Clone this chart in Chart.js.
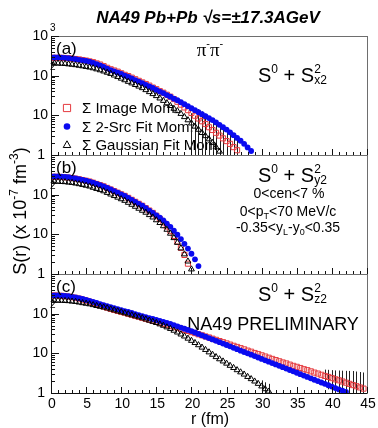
<!DOCTYPE html>
<html>
<head>
<meta charset="utf-8">
<script src="https://cdn.jsdelivr.net/npm/chart.js@4.4.1/dist/chart.umd.min.js"></script>
<style>
  body { margin: 0; background: #fff; }
  #wrap { position: relative; width: 378px; height: 428px; }
  #wrap canvas { position: absolute; left: 0; top: 0; }
</style>
</head>
<body>
<div id="wrap">
  <canvas id="pa" width="378" height="428"></canvas>
  <canvas id="pb" width="378" height="428"></canvas>
  <canvas id="pc" width="378" height="428"></canvas>
</div>
<script>
// r bins (fm)
const rGrid = [0,0.5,1,1.5,2,2.5,3,3.5,4,4.5,5,5.5,6,6.5,7,7.5,8,8.5,9,9.5,
  10,10.5,11,11.5,12,12.5,13,13.5,14,14.5,15,15.5,16,16.5,17,17.5,18,18.5,19,19.5,
  20,20.5,21,21.5,22,22.5,23,23.5,24,24.5,25,25.5,26,26.5,27,27.5,28,28.5,29,29.5,
  30,30.5,31,31.5,32,32.5,33,33.5,34,34.5,35,35.5,36,36.5,37,37.5,38,38.5,39,39.5,
  40,40.5,41,41.5,42,42.5,43,43.5,44,44.5,45];
const xTickValues = [0,5,10,15,20,25,30,35,40,45];
const xTickLabels = ['0','5','10','15','20','25','30','35','40','45'];
const yDecades = [1,10,100,1000];
const seriesNames = ['\u03A3 Image Mom.', '\u03A3 2-Src Fit Mom.', '\u03A3 Gaussian Fit Mom.'];

// panel (a): S0 + Sx2
const imageA = [282,282,282,282,279,275,269,263,257,248,
  240,229,219,204,191,174,158,145,135,126,
  115,105,97.7,89.1,81.3,74.1,67.6,61.7,56.2,50.1,
  45.7,40.7,37.2,33.1,29.5,25.7,21.9,18.6,15.8,13.5,
  11.5,9.77,8.32,7.08,6.03,5.01,4.27,3.63,3.09,2.63,
  2.24,1.91,1.58,1.32];
const twoSrcA = [288,288,288,285,282,275,269,260,251,243,
  234,224,209,195,182,166,151,138,129,120,
  110,100,93.3,85.1,77.6,70.8,64.6,58.9,53.7,49.0,
  43.7,39.8,36.3,32.4,29.5,26.3,24.0,21.4,19.1,17.0,
  15.1,13.5,12.0,10.7,9.55,8.51,7.59,6.61,5.75,5.01,
  4.37,3.72,3.16,2.69,2.29,1.91,1.55,1.26];
const gaussA = [204,204,204,202,200,195,191,186,180,174,
  168,162,155,146,138,129,120,112,102,93.3,
  85.1,77.6,70.8,64.6,58.9,53.7,49.0,43.7,38.9,34.7,
  30.9,26.9,23.4,20.4,17.4,14.8,12.9,11.0,9.12,7.59,
  6.31,5.25,4.37,3.63,3.02,2.51,2.04,1.58,1.23];
// errors of the last points of each series (aligned to the end)
const imageErrA = [6,5.5,5,4.5,4,3.5,3,2.6,2.2,1.9,1.6,1.3];
const gaussErrA = [5,4.5,4,3.5,3,2.5,2,1.6,1.2];

// panel (b): S0 + Sy2
const imageB = [282,282,282,279,275,269,263,254,245,234,
  224,214,200,186,174,162,148,135,123,112,
  102,93.3,83.2,74.1,66.1,58.9,52.5,45.7,39.8,34.7,
  29.5,24.5,20.0,15.8,12.3,9.12,6.61,4.57,3.02,1.82];
const twoSrcB = [288,288,288,285,282,275,266,257,245,234,
  224,214,200,186,174,162,148,135,123,112,
  102,93.3,83.2,74.1,66.1,58.9,52.5,45.7,39.8,34.7,
  30.2,26.3,22.4,18.6,15.5,12.3,9.77,7.59,5.75,4.37,
  3.24,2.34,1.58];
const gaussB = [214,214,214,211,209,204,200,193,186,178,
  170,162,151,141,132,123,112,102,93.3,85.1,
  77.6,70.8,63.1,56.2,50.1,44.7,39.8,35.5,30.9,26.9,
  22.9,19.5,16.2,13.2,10.5,8.13,6.17,4.47,3.16,2.09,
  1.32];
const imageErrB = [];
const gaussErrB = [];

// panel (c): S0 + Sz2
const imageC = [288,288,285,282,275,269,260,251,240,226,
  214,200,186,174,162,151,141,132,124,117,
  111,105,98.9,93.3,88.1,83.2,78.5,74.1,70.0,66.1,
  62.4,58.9,55.6,52.5,49.5,46.8,44.2,41.7,38.9,36.7,
  34.3,32.4,30.2,28.5,26.6,25.1,23.4,21.9,20.4,19.1,
  17.8,16.6,15.5,14.5,13.5,12.6,11.7,11.0,10.2,9.55,
  8.91,8.32,7.76,7.24,6.76,6.31,5.89,5.56,5.19,4.84,
  4.57,4.27,3.98,3.76,3.51,3.27,3.09,2.88,2.69,2.54,
  2.37,2.21,2.09,1.95,1.82,1.70,1.58,1.48,1.38,1.29];
const twoSrcC = [288,288,288,285,282,275,266,257,245,234,
  221,209,197,186,174,164,155,146,138,130,
  123,116,110,104,97.7,92.3,87.1,82.2,77.6,73.3,
  69.2,65.3,61.7,58.2,55.0,51.3,47.9,44.7,41.7,38.9,
  36.3,33.5,30.9,28.5,26.3,24.3,22.4,20.7,19.1,17.6,
  16.2,15.0,13.8,12.7,11.7,10.8,10.0,9.23,8.51,7.85,
  7.24,6.68,6.17,5.69,5.25,4.84,4.47,4.12,3.80,3.51,
  3.24,2.99,2.75,2.54,2.34,2.16,2.00,1.84,1.70,1.57,
  1.45,1.33,1.23,1.15,1.07];
const gaussC = [214,214,214,214,211,209,204,200,193,186,
  180,174,166,158,151,145,138,130,123,116,
  110,104,97.7,92.3,87.1,82.2,77.6,72.4,67.6,63.1,
  58.9,54.3,50.1,45.7,41.7,37.6,33.9,30.2,26.9,23.7,
  20.9,18.4,16.2,14.1,12.3,10.7,9.33,8.13,7.16,6.31,
  5.56,4.90,4.32,3.80,3.35,2.95,2.57,2.26,1.97,1.72,
  1.48,1.26,1.10];
const imageErrC = [1.2,1.3,1.4,1.5,1.6,1.7,1.8,1.9,2.0,2.0,2.0,2.0];
const gaussErrC = [0.6,0.6,0.6];

const RED = '#e53a3e';
const BLUE = '#0a0af0';
const SANS = "'Liberation Sans', Arial, Helvetica, sans-serif";
const SERIF = "'Liberation Serif', 'Times New Roman', serif";

function toPoints(vals) {
  return vals.map((v, i) => ({ x: rGrid[i], y: v }));
}

// draw a run of text pieces with sizes / vertical shifts (super/subscripts)
function richText(ctx, parts, x, y, align) {
  let total = 0;
  const widths = parts.map(p => {
    ctx.font = p.f;
    const w = ctx.measureText(p.t).width;
    if (p.adv !== false) total += w;
    return w;
  });
  let cx = align === 'center' ? x - total / 2 : (align === 'right' ? x - total : x);
  ctx.textAlign = 'left';
  ctx.textBaseline = 'alphabetic';
  parts.forEach((p, i) => {
    ctx.font = p.f;
    ctx.fillText(p.t, cx, y + (p.dy || 0));
    if (p.adv !== false) cx += widths[i];
  });
}

function sComponent(ctx, sub, x, y) {
  const big = '20px ' + SANS, small = '12px ' + SANS;
  richText(ctx, [
    { t: 'S', f: big },
    { t: '0', f: small, dy: -9 },
    { t: ' + S', f: big },
    { t: '2', f: small, dy: -9, adv: false },
    { t: sub, f: small, dy: 2 }
  ], x, y, 'left');
}

function drawMarker(ctx, style, x, y, r, color) {
  ctx.save();
  ctx.strokeStyle = color;
  ctx.fillStyle = color;
  ctx.lineWidth = 1;
  ctx.beginPath();
  if (style === 'rect') {
    ctx.rect(x - r, y - r, 2 * r, 2 * r);
    ctx.stroke();
  } else if (style === 'circle') {
    ctx.arc(x, y, r, 0, Math.PI * 2);
    ctx.fill();
  } else {
    ctx.moveTo(x, y - r);
    ctx.lineTo(x + r * 0.9, y + r * 0.6);
    ctx.lineTo(x - r * 0.9, y + r * 0.6);
    ctx.closePath();
    ctx.stroke();
  }
  ctx.restore();
}

// vertical error bars for the tail points of a series
function errorBars(chart, vals, errs) {
  if (!errs.length) return;
  const { ctx, chartArea: a, scales } = chart;
  const start = vals.length - errs.length;
  ctx.save();
  ctx.strokeStyle = '#222';
  ctx.lineWidth = 1;
  ctx.beginPath();
  errs.forEach((e, k) => {
    const i = start + k;
    const v = vals[i];
    const px = Math.round(scales.x.getPixelForValue(rGrid[i])) + 0.5;
    const lo = v - e > 1 ? scales.y.getPixelForValue(v - e) : a.bottom;
    const hi = Math.max(a.top, scales.y.getPixelForValue(v + e));
    ctx.moveTo(px, lo);
    ctx.lineTo(px, hi);
  });
  ctx.stroke();
  ctx.restore();
}

function frameAndAxes(chart, opt) {
  const { ctx, chartArea: a, scales } = chart;
  const xs = scales.x, ys = scales.y;
  ctx.save();
  ctx.lineWidth = 1;
  ctx.strokeStyle = '#6e6e6e';
  ctx.strokeRect(a.left + 0.5, a.top + 0.5, a.right - a.left, a.bottom - a.top);
  ctx.strokeStyle = '#111';
  ctx.beginPath();
  ctx.moveTo(a.left + 0.5, a.top); ctx.lineTo(a.left + 0.5, a.bottom + 0.5);
  ctx.lineTo(a.right, a.bottom + 0.5);
  ctx.stroke();
  // x ticks, inside
  ctx.beginPath();
  for (let v = 0; v <= 45; v++) {
    const px = Math.round(xs.getPixelForValue(v)) + 0.5;
    const len = v % 5 === 0 ? 6 : 3;
    ctx.moveTo(px, a.bottom);
    ctx.lineTo(px, a.bottom - len);
  }
  // y ticks, inside
  yDecades.forEach((d, i) => {
    const py = Math.round(ys.getPixelForValue(d)) + 0.5;
    ctx.moveTo(a.left, py); ctx.lineTo(a.left + 8, py);
    if (i < yDecades.length - 1) {
      for (let m = 2; m <= 9; m++) {
        const pm = Math.round(ys.getPixelForValue(m * d)) + 0.5;
        ctx.moveTo(a.left, pm); ctx.lineTo(a.left + 4, pm);
      }
    }
  });
  ctx.stroke();

  // y tick labels
  ctx.fillStyle = '#000';
  const lab = '14px ' + SANS, sup = '10px ' + SANS;
  yDecades.forEach(d => {
    if (d === 1000 && !opt.topLabel) return;
    const py = ys.getPixelForValue(d);
    ctx.font = lab;
    ctx.textAlign = 'right';
    ctx.textBaseline = 'middle';
    if (d === 1) {
      ctx.fillText('1', a.left - 6, py);
    } else {
      ctx.fillText('10', a.left - 3, py);
      if (d > 10) {
        ctx.font = sup;
        ctx.textAlign = 'left';
        ctx.fillText(d === 100 ? '2' : '3', a.left - 1, py - 8);
      }
    }
  });

  // x tick labels on the bottom panel
  if (opt.xLabels) {
    ctx.font = '14px ' + SANS;
    ctx.textAlign = 'center';
    ctx.textBaseline = 'middle';
    xTickValues.forEach((v, i) => {
      ctx.fillText(xTickLabels[i], xs.getPixelForValue(v) + 1, a.bottom + 11);
    });
  }

  // panel letter and component label
  ctx.font = '17px ' + SANS;
  ctx.textAlign = 'left';
  ctx.textBaseline = 'middle';
  ctx.fillText(opt.letter, a.left + 5, a.top + 13);
  sComponent(ctx, opt.comp, 258, a.top + opt.compDy);
  ctx.restore();
}

function makePanel(id, padTop, padBottom, image, twoSrc, gauss, imageErr, gaussErr, opt) {
  const decor = {
    id: 'decor',
    beforeDatasetsDraw(chart) {
      if (opt.extra) opt.extra(chart.ctx, chart.chartArea);
      errorBars(chart, image, imageErr);
      errorBars(chart, gauss, gaussErr);
    },
    afterDatasetsDraw(chart) {
      frameAndAxes(chart, opt);
    }
  };
  return new Chart(document.getElementById(id), {
    type: 'scatter',
    data: {
      datasets: [
        { label: seriesNames[2], data: toPoints(gauss), pointStyle: 'triangle', pointRadius: 3.4,
          borderColor: '#000', backgroundColor: 'rgba(0,0,0,0)', borderWidth: 1 },
        { label: seriesNames[1], data: toPoints(twoSrc), pointStyle: 'circle', pointRadius: 2.9,
          borderColor: BLUE, backgroundColor: BLUE, borderWidth: 0 },
        { label: seriesNames[0], data: toPoints(image), pointStyle: 'rect', pointRadius: 3.6,
          borderColor: RED, backgroundColor: 'rgba(0,0,0,0)', borderWidth: 1 }
      ]
    },
    options: {
      responsive: false,
      animation: false,
      events: [],
      layout: { padding: { left: 51, right: 11, top: padTop, bottom: padBottom } },
      plugins: { legend: { display: false }, tooltip: { enabled: false } },
      scales: {
        x: { type: 'linear', min: 0, max: 45, display: false },
        y: { type: 'logarithmic', min: 1, max: 1000, display: false }
      }
    },
    plugins: [decor]
  });
}

makePanel('pa', 36, 428 - 155, imageA, twoSrcA, gaussA, imageErrA, gaussErrA, {
  letter: '(a)', comp: 'x2', compDy: 46, topLabel: true,
  extra(ctx) {
    ctx.save();
    ctx.fillStyle = '#000';
    // title
    ctx.font = 'italic bold 17px ' + SANS;
    ctx.textAlign = 'center';
    ctx.textBaseline = 'alphabetic';
    ctx.fillText('NA49 Pb+Pb \u221As=\u00B117.3AGeV', 208, 23);
    // y axis title
    ctx.translate(20, 211);
    ctx.rotate(-Math.PI / 2);
    const f = '18px ' + SANS, s = '12px ' + SANS;
    richText(ctx, [
      { t: 'S(r) (x 10', f: f }, { t: '-7', f: s, dy: -8 },
      { t: ' fm', f: f }, { t: '-3', f: s, dy: -8 }, { t: ')', f: f }
    ], 0, 6, 'center');
    ctx.setTransform(1, 0, 0, 1, 0, 0);
    // x axis title
    ctx.font = '16px ' + SANS;
    ctx.textAlign = 'center';
    ctx.fillText('r (fm)', 210, 424);
    // pi- pi-
    richText(ctx, [
      { t: '\u03C0', f: '19px ' + SERIF }, { t: '-', f: '11px ' + SANS, dy: -9 },
      { t: '\u03C0', f: '19px ' + SERIF }, { t: '-', f: '11px ' + SANS, dy: -9 }
    ], 210, 56, 'center');
    // legend
    const styles = ['rect', 'circle', 'triangle'];
    const colors = [RED, BLUE, '#000'];
    const sizes = [3.6, 3.3, 4.2];
    seriesNames.forEach((n, i) => {
      const y = 108 + i * 18.5;
      drawMarker(ctx, styles[i], 67, y, sizes[i], colors[i]);
      ctx.fillStyle = '#000';
      ctx.textAlign = 'left';
      ctx.textBaseline = 'middle';
      ctx.font = '15px ' + SANS;
      ctx.fillText(n, 82, y + 1);
    });
    ctx.restore();
  }
});

makePanel('pb', 155, 428 - 274, imageB, twoSrcB, gaussB, imageErrB, gaussErrB, {
  letter: '(b)', comp: 'y2', compDy: 27,
  extra(ctx) {
    ctx.save();
    ctx.fillStyle = '#000';
    const f = '14px ' + SANS, s = '9px ' + SANS;
    richText(ctx, [{ t: '0<cen<7 %', f: f }], 289, 198, 'center');
    richText(ctx, [
      { t: '0<p', f: f }, { t: 'T', f: s, dy: 3 }, { t: '<70 MeV/c', f: f }
    ], 288, 216, 'center');
    richText(ctx, [
      { t: '-0.35<y', f: f }, { t: 'L', f: s, dy: 3 }, { t: '-y', f: f },
      { t: '0', f: s, dy: 3 }, { t: '<0.35', f: f }
    ], 288, 232, 'center');
    ctx.restore();
  }
});

makePanel('pc', 274, 428 - 393, imageC, twoSrcC, gaussC, imageErrC, gaussErrC, {
  letter: '(c)', comp: 'z2', compDy: 27, xLabels: true,
  extra(ctx) {
    ctx.save();
    ctx.fillStyle = '#000';
    ctx.font = '18px ' + SANS;
    ctx.textAlign = 'center';
    ctx.textBaseline = 'alphabetic';
    ctx.fillText('NA49 PRELIMINARY', 273, 330);
    ctx.restore();
  }
});
</script>
</body>
</html>
